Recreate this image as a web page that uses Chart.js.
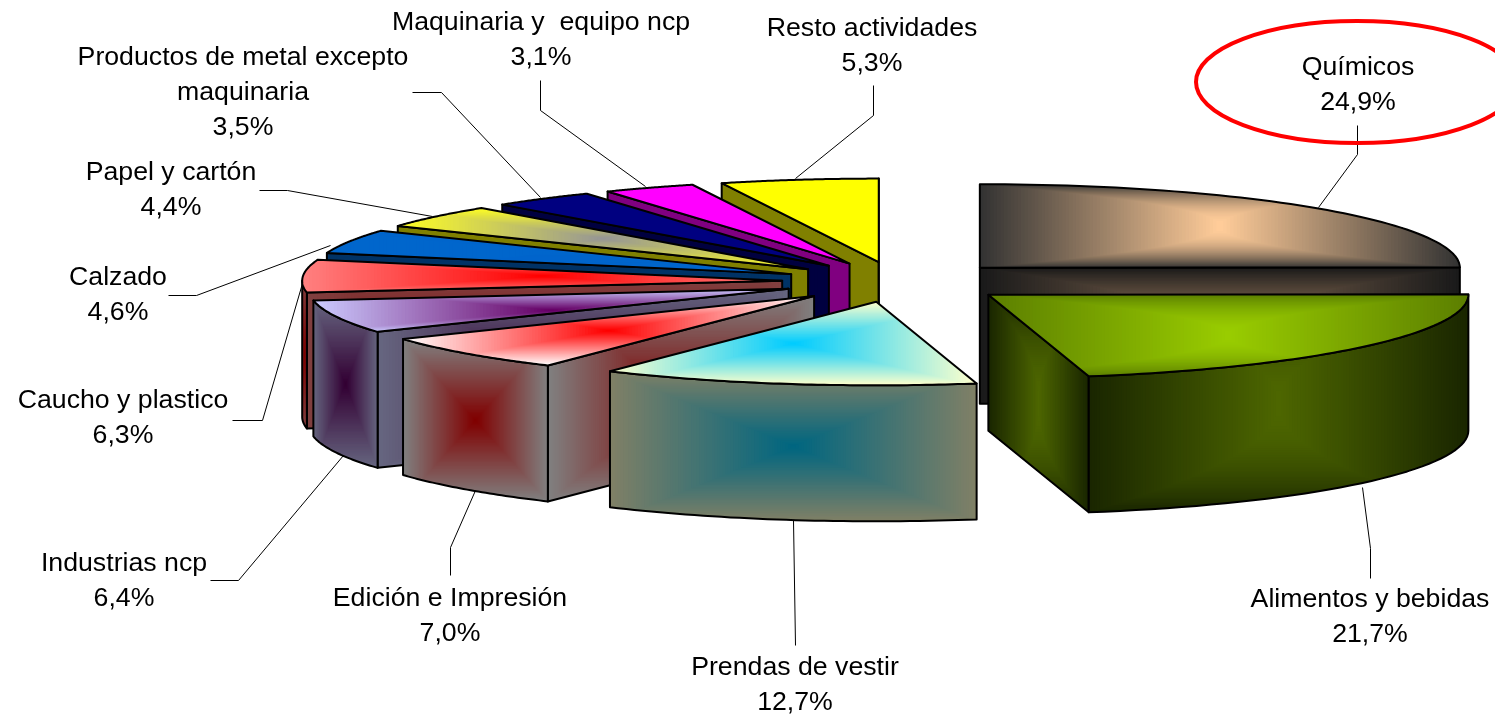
<!DOCTYPE html>
<html>
<head>
<meta charset="utf-8">
<title>Participación por actividad</title>
<script src="https://cdn.jsdelivr.net/npm/chart.js@4"></script>
<style>
  html, body { margin: 0; padding: 0; background: #fff; overflow: hidden; }
  canvas { display: block; }
</style>
</head>
<body>
<canvas id="myChart" width="1495" height="716"></canvas>
<script>
// Datos del gráfico (en el orden de las porciones, horario desde las 12)
const categories = ['Químicos', 'Alimentos y bebidas', 'Prendas de vestir', 'Edición e Impresión', 'Industrias ncp',
    'Caucho y plastico', 'Calzado', 'Papel y cartón', 'Productos de metal excepto\nmaquinaria', 'Maquinaria y  equipo ncp', 'Resto actividades'];
const values = [24.9, 21.7, 12.7, 7.0, 6.4, 6.3, 4.6, 4.4, 3.5, 3.1, 5.3];

// Colores: centro y borde del degradado de cada cara
const topCenter = ['#ffcc99', '#99cc00', '#00ccff', '#ff0000', '#660066', '#ff0000', '#0066cc', '#969696', '#000080', '#ff00ff', '#ffff00'];
const topEdge = ['#333333', '#5c7f00', '#ffffcc', '#ffffff', '#ccccff', '#ff8080', '#0066cc', '#ffff22', '#000080', '#ff00ff', '#ffff00'];
const wallCenter = ['#806650', '#4d6600', '#006680', '#800000', '#330033', '#800000', '#003366', '#808000', '#000040', '#800080', '#808000'];
const wallEdge = ['#1a1a1a', '#1a2600', '#808066', '#808080', '#666680', '#804040', '#003366', '#808000', '#000040', '#800080', '#808000'];
// Forma vertical del degradado (1 = rectángulo, menos de 1 = banda más alta)
const fadeShape = [0.5, 0.5, 1, 1, 1, 1, 1, 1, 1, 1, 1];

// Posición del texto (primera línea) y líneas guía de cada etiqueta
const labelX = [1358, 1370, 795, 450, 124, 123, 118, 171, 243, 541, 872];
const labelY = [68, 600, 668, 599, 564, 401, 278, 173, 58, 23, 29];
const leaders = [
    [[1357, 125], [1357, 154], [1318, 207]],
    [[1362, 487], [1370, 548], [1370, 578]],
    [[793, 520], [795, 645]],
    [[475, 490], [450, 547], [450, 575]],
    [[343, 455], [238, 580], [210, 580]],
    [[302, 283], [262, 420], [232, 420]],
    [[330, 245], [196, 295], [168, 295]],
    [[432, 216], [287, 190], [259, 190]],
    [[540, 197], [441, 92], [412, 92]],
    [[645, 186], [540, 110], [540, 80]],
    [[795, 178], [873, 115], [873, 85]]
];

const TILT = 83.5 / 480; // aplastamiento de la elipse
const DEPTH = 136;       // altura del cilindro
const LINE_HEIGHT = 35;

function hexToRgb(hex) {
    return [1, 3, 5].map(i => parseInt(hex.substr(i, 2), 16));
}

function tracePath(ctx, pts) {
    ctx.beginPath();
    pts.forEach((p, i) => i ? ctx.lineTo(p[0], p[1]) : ctx.moveTo(p[0], p[1]));
    ctx.closePath();
}

// Relleno tipo "desde el centro": rectángulos anidados recortados por la cara
function fillFace(ctx, pts, edge, center, shape) {
    const xs = pts.map(p => p[0]), ys = pts.map(p => p[1]);
    const x0 = Math.min(...xs), x1 = Math.max(...xs), y0 = Math.min(...ys), y1 = Math.max(...ys);
    const mx = (x0 + x1) / 2, my = (y0 + y1) / 2;
    const c0 = hexToRgb(edge), c1 = hexToRgb(center);
    const steps = 70;

    ctx.save();
    tracePath(ctx, pts);
    ctx.clip();
    for (let i = 0; i < steps; i++) {
        const f = i / (steps - 1), k = 1 - i / steps, ky = Math.pow(k, shape);
        const rgb = c0.map((c, j) => Math.round(c + (c1[j] - c) * f));
        ctx.fillStyle = `rgb(${rgb[0]},${rgb[1]},${rgb[2]})`;
        ctx.fillRect(mx - (mx - x0) * k, my - (my - y0) * ky, (x1 - x0) * k, (y1 - y0) * ky);
    }
    ctx.restore();

    tracePath(ctx, pts);
    ctx.strokeStyle = '#000';
    ctx.lineWidth = 2;
    ctx.lineJoin = 'round';
    ctx.stroke();
}

// Dibuja cada porción en 3D a partir de la geometría que calcula Chart.js
const pie3d = {
    id: 'pie3d',
    beforeDatasetDraw() {
        return false;
    },
    afterDatasetsDraw(chart) {
        const ctx = chart.ctx;
        const arcs = chart.getDatasetMeta(0).data;

        const slices = arcs.map((el, i) => {
            const mid = (el.startAngle + el.endAngle) / 2;
            const off = (el.options.offset || 0) / 2;
            const ox = el.x + Math.cos(mid) * off;
            const oy = el.y + Math.sin(mid) * off * TILT;
            const at = (a, dz) => [ox + Math.cos(a) * el.outerRadius, oy + Math.sin(a) * el.outerRadius * TILT + dz];
            return { i, el, ox, oy, at };
        }).sort((a, b) => a.oy - b.oy);

        slices.forEach(({ i, el, ox, oy, at }) => {
            const a0 = el.startAngle, a1 = el.endAngle;

            // paredes radiales visibles
            if (Math.cos(a0) < 0) {
                fillFace(ctx, [[ox, oy], at(a0, 0), at(a0, DEPTH), [ox, oy + DEPTH]], wallEdge[i], wallCenter[i], fadeShape[i]);
            }
            if (Math.cos(a1) > 0) {
                fillFace(ctx, [[ox, oy], at(a1, 0), at(a1, DEPTH), [ox, oy + DEPTH]], wallEdge[i], wallCenter[i], fadeShape[i]);
            }

            // pared exterior: solo la mitad delantera
            for (const k of [0, 2]) {
                const from = Math.max(a0, k * Math.PI), to = Math.min(a1, (k + 1) * Math.PI);
                if (to <= from) continue;
                const up = [], down = [];
                for (let s = 0; s <= 40; s++) {
                    const a = from + (to - from) * s / 40;
                    up.push(at(a, 0));
                    down.unshift(at(a, DEPTH));
                }
                fillFace(ctx, up.concat(down), wallEdge[i], wallCenter[i], fadeShape[i]);
            }

            // cara superior
            const top = [[ox, oy]];
            for (let s = 0; s <= 60; s++) {
                top.push(at(a0 + (a1 - a0) * s / 60, 0));
            }
            fillFace(ctx, top, topEdge[i], topCenter[i], fadeShape[i]);
        });
    },
    afterDraw(chart) {
        const ctx = chart.ctx;

        // líneas guía
        ctx.strokeStyle = '#000';
        ctx.lineWidth = 1;
        leaders.forEach(line => {
            ctx.beginPath();
            line.forEach((p, i) => i ? ctx.lineTo(p[0] + 0.5, p[1] + 0.5) : ctx.moveTo(p[0] + 0.5, p[1] + 0.5));
            ctx.stroke();
        });

        // etiquetas
        ctx.fillStyle = '#000';
        ctx.font = '26.7px "Liberation Sans", Arial, sans-serif';
        ctx.textAlign = 'center';
        ctx.textBaseline = 'middle';
        categories.forEach((name, i) => {
            const lines = name.split('\n');
            lines.push(values[i].toFixed(1).replace('.', ',') + '%');
            lines.forEach((t, j) => ctx.fillText(t, labelX[i], labelY[i] + j * LINE_HEIGHT));
        });

        // elipse roja que resalta Químicos
        ctx.strokeStyle = '#ff0000';
        ctx.lineWidth = 4;
        ctx.beginPath();
        ctx.ellipse(1357, 82, 161, 61, 0, 0, Math.PI * 2);
        ctx.stroke();
    }
};

const ctx = document.getElementById('myChart').getContext('2d');

const myChart = new Chart(ctx, {
    type: 'pie',
    data: {
        labels: categories,
        datasets: [{
            data: values,
            backgroundColor: topCenter,
            offset: 232,
            borderWidth: 0
        }]
    },
    options: {
        responsive: false,
        animation: false,
        radius: 480,
        layout: { padding: { left: 301, right: 0, top: 0, bottom: 152 } },
        plugins: { legend: { display: false }, tooltip: { enabled: false } }
    },
    plugins: [pie3d]
});
</script>
</body>
</html>
